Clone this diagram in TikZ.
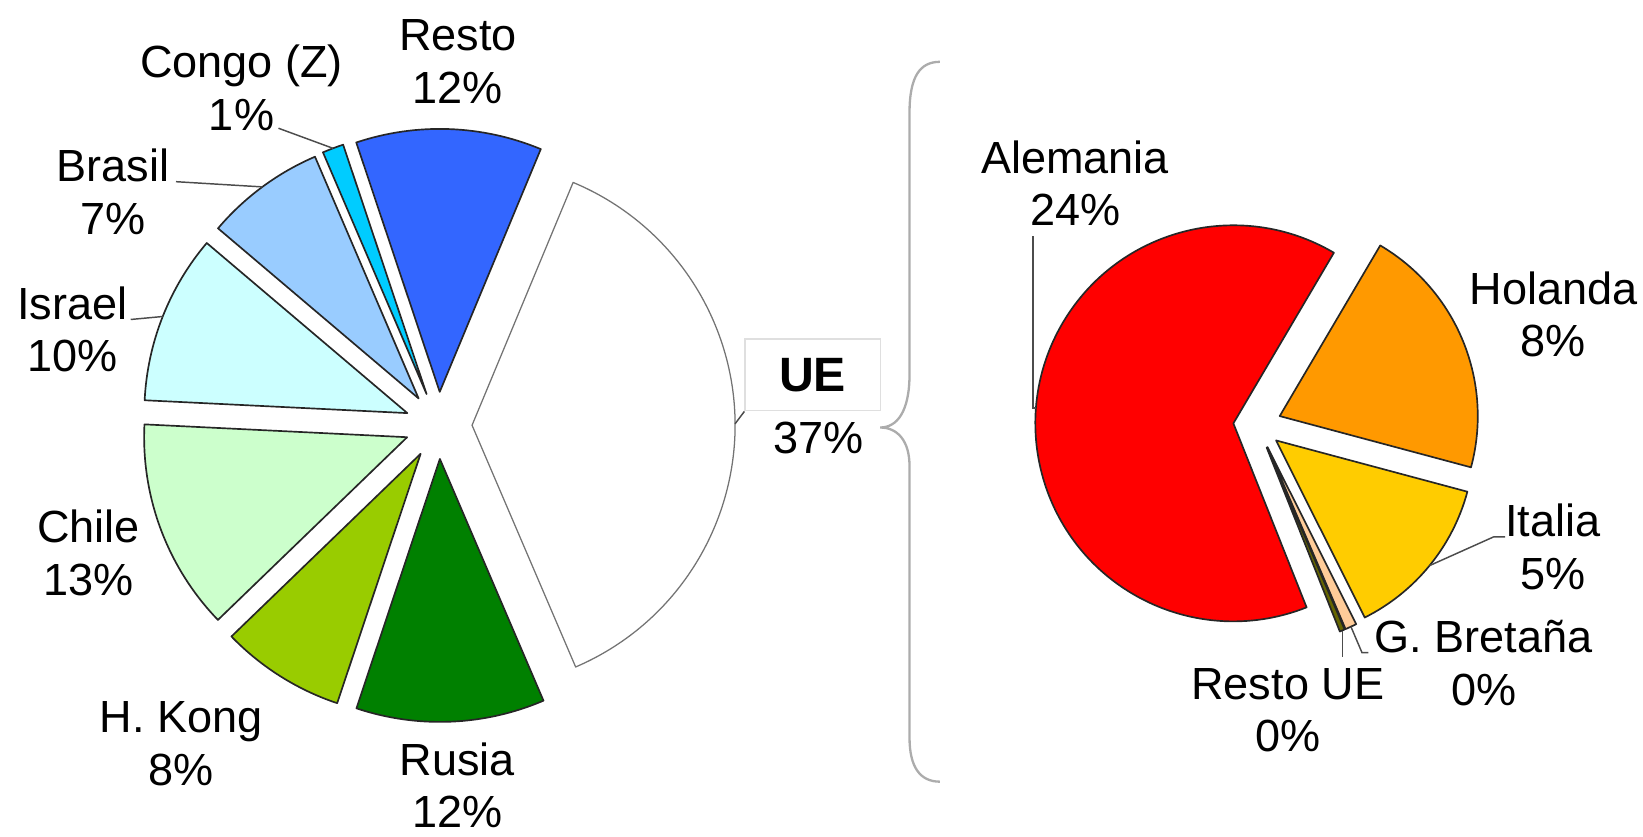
\documentclass[tikz,border=0pt]{standalone}
\usepackage{fontspec}
\setmainfont{Liberation Sans}
\usetikzlibrary{calc}
\definecolor{cResto}{RGB}{51,102,255}
\definecolor{cCongo}{RGB}{0,204,255}
\definecolor{cBrasil}{RGB}{153,204,255}
\definecolor{cIsrael}{RGB}{204,255,255}
\definecolor{cChile}{RGB}{204,255,204}
\definecolor{cKong}{RGB}{153,204,0}
\definecolor{cRusia}{RGB}{0,128,0}
\definecolor{cAlemania}{RGB}{255,0,0}
\definecolor{cHolanda}{RGB}{255,153,0}
\definecolor{cItalia}{RGB}{255,204,0}
\definecolor{cGB}{RGB}{255,204,153}
\definecolor{cRestoUE}{RGB}{102,102,0}
\tikzstyle{slice}=[draw=black!85,line width=1.6pt,line join=round]
\tikzstyle{pale}=[draw=black!55,line width=1.2pt,line join=round]
\tikzstyle{tag}=[font=\fontsize{43}{50}\selectfont,inner sep=0pt,anchor=base]
\tikzstyle{leader}=[draw=black!70,line width=1.4pt]
\tikzstyle{uebox}=[draw=gray!25,line width=1.2pt,fill=white,inner sep=0pt,minimum width=129pt,minimum height=68.5pt,font=\fontsize{46}{50}\selectfont\bfseries]
\tikzstyle{brace}=[draw=gray!65,line width=2.2pt]

\begin{document}
\begin{tikzpicture}[x=1pt,y=1pt]
    \useasboundingbox (0,0) rectangle (1568,798);
    % Left pie: all countries, every slice pulled out
    \begin{scope}[shift={(418.5,392)}]
    \foreach \a/\b/\col/\n/\s in {-66.8/67.4/white/ue/pale, 67.4/108.5/cResto/resto/slice,
        108.5/113.2/cCongo/congo/slice, 113.2/139.7/cBrasil/brasil/slice,
        139.7/177.2/cIsrael/israel/slice, 177.2/224/cChile/chile/slice,
        224/251.5/cKong/kong/slice, 251.5/293.2/cRusia/rusia/slice}{
        \pgfmathsetmacro\m{(\a+\b)/2}
        \draw[\s,fill=\col] (\m:32) -- ++(\a:251) arc[start angle=\a,end angle=\b,radius=251] -- cycle;
        \coordinate (\n-tip) at (\m:283);
    }
    \end{scope}
    % Right pie: the UE share split up
    \begin{scope}[shift={(1200,392.2)}]
    \foreach \a/\b/\col/\n in {-15/59.5/cHolanda/hol, 59.5/291.7/cAlemania/alem,
        291.7/293.2/cRestoUE/rue, 293.2/296.6/cGB/gb, 296.6/345/cItalia/ita}{
        \pgfmathsetmacro\m{(\a+\b)/2}
        \draw[slice,fill=\col] (\m:23) -- ++(\a:189) arc[start angle=\a,end angle=\b,radius=189] -- cycle;
        \coordinate (\n-tip) at (\m:212);
    }
    \end{scope}
    % Names and shares
    \foreach \id/\x/\y/\nm/\pc in {resto/437/749.6/Resto/12\%, congo/230.5/723.6/Congo (Z)/1\%,
        brasil/108/624.6/Brasil/7\%, israel/69/493.1/Israel/10\%, chile/84.5/280/Chile/13\%,
        kong/173/98.6/H. Kong/8\%, rusia/436.5/58/Rusia/12\%,
        alem/1026/632.6/Alemania/24\%, hol/1482.5/507.6/Holanda/8\%, ita/1482/285.6/Italia/5\%,
        gb/1416/175.1/G. Bretaña/0\%, rue/1229/130.6/Resto UE/0\%}{
        \node[tag] (\id) at (\x,\y) {\nm};
        \node[tag] (\id-p) at (\x,\y-50) {\pc};
    }
    \node[uebox] (uebx) at (775.5,440.2) {UE};
    \node[tag] (ue-p) at (781.4,365.1) {37\%};
    % Leader lines
    \draw[leader] ([xshift=4pt,yshift=2pt]congo-p.base east) -- (congo-tip);
    \draw[leader] ([xshift=6pt]brasil.base east) -- (brasil-tip);
    \draw[leader] ([xshift=3pt]israel.base east) -- (israel-tip);
    \draw[leader] (ue-tip) -- (uebx.south west);
    \draw[leader] ([xshift=3pt,yshift=-10pt]alem-p.base west) |- (alem-tip);
    \draw[leader] (ita.base west) -- ++(-11,0) -- (ita-tip);
    \draw[leader] (gb-tip) -- ([xshift=-12pt]gb.base west) -- ([xshift=-6pt]gb.base west);
    \draw[leader] (rue-tip) -- ++(0,-25);
    % Brace from UE to the right pie
    \draw[brace] (897,739) .. controls (878,739) and (868,725) .. (868,690.5) -- (868,441)
        .. controls (868,405) and (856,390) .. (840,390)
        .. controls (856,390) and (868,378) .. (868,353) -- (868,94)
        .. controls (868,66) and (878,52) .. (897,52);
\end{tikzpicture}
\end{document}
